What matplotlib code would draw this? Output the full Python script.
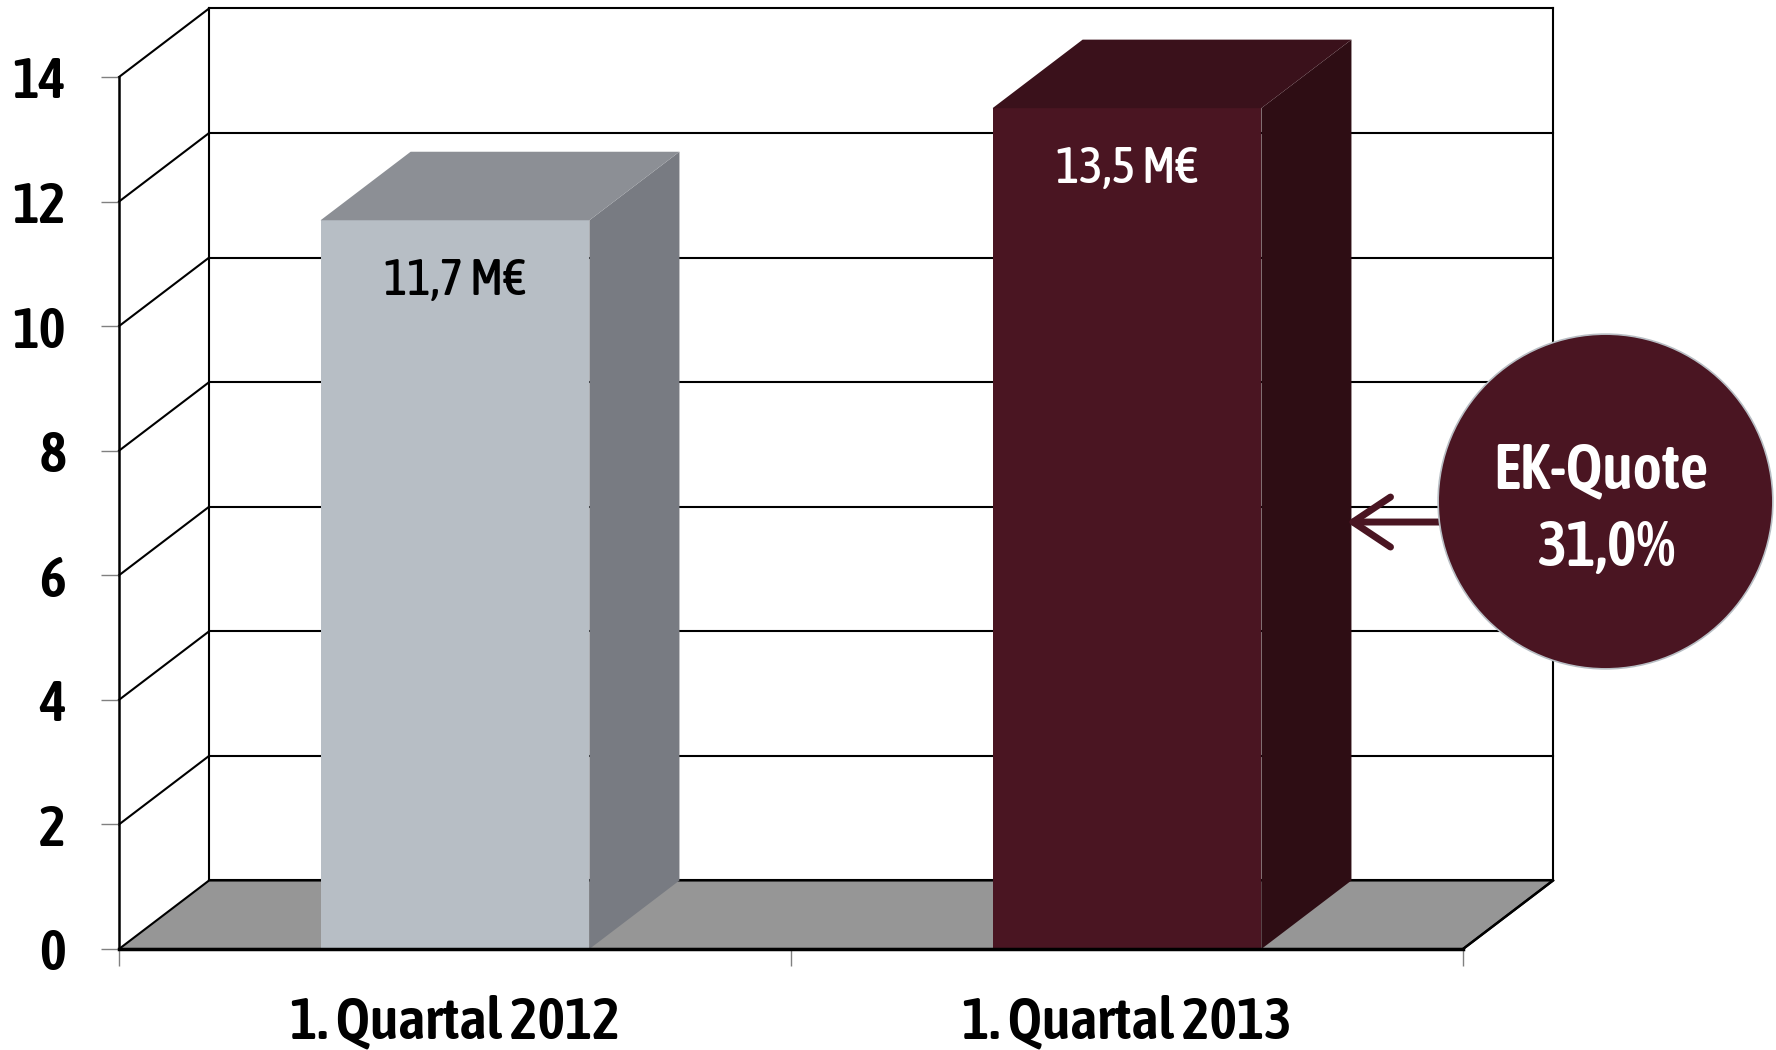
import matplotlib
matplotlib.use('Agg')
import matplotlib.pyplot as plt
from matplotlib.patches import Polygon

# ---- data ----
categories = ['1. Quartal 2012', '1. Quartal 2013']
values = [11.7, 13.5]
value_labels = ['11,7 M€', '13,5 M€']
y_ticks = [0, 2, 4, 6, 8, 10, 12, 14]
quote_lines = ['EK-Quote', '31,0%']

FRONT = ['#b7bec5', '#4a1522']
SIDE = ['#787b82', '#2e0d14']
TOP = ['#8c8f95', '#3a111b']
LABEL_COLORS = ['black', 'white']
WINE = '#4a1522'

plt.rcParams['font.family'] = ['Asap Condensed', 'DejaVu Sans']

W, H = 1776, 1050
fig = plt.figure(figsize=(W / 100, H / 100), dpi=100)
x0_px, x1_px, y0_px, y1_px = 119, 1463, 949, 77
ax = fig.add_axes([x0_px / W, (H - y0_px) / H, (x1_px - x0_px) / W, (y0_px - y1_px) / H])
n = len(categories)
ax.set_xlim(0, n)
ax.set_ylim(0, max(y_ticks))

DX, DY = 0.134, 1.1  # 3D depth offset
ymax = max(y_ticks)

# floor
ax.add_patch(Polygon([(0, 0), (n, 0), (n + DX, DY), (DX, DY)], closed=True,
                     facecolor='#969696', edgecolor='black', lw=1.5, zorder=1, clip_on=False))

# back wall grid
for v in y_ticks:
    ax.plot([DX, n + DX], [v + DY, v + DY], color='black', lw=1.5, zorder=1.5, clip_on=False)
    if v > 0:
        ax.plot([0, DX], [v, v + DY], color='black', lw=1.5, zorder=1.5, clip_on=False)
ax.plot([DX, DX], [DY, ymax + DY], color='black', lw=1.5, zorder=1.5, clip_on=False)
ax.plot([n + DX, n + DX], [DY, ymax + DY], color='black', lw=1.5, zorder=1.5, clip_on=False)
ax.plot([n, n + DX], [0, DY], color='black', lw=1.8, zorder=1.6, clip_on=False)

# bars
centers = [i + 0.5 for i in range(n)]
bw = 0.4
ax.bar(centers, values, width=bw, color=FRONT, zorder=3, linewidth=0)
for i, (c, v) in enumerate(zip(centers, values)):
    r = c + bw / 2
    l = c - bw / 2
    ax.add_patch(Polygon([(r, 0), (r + DX, DY), (r + DX, v + DY), (r, v)], closed=True,
                         facecolor=SIDE[i], edgecolor='none', zorder=3, clip_on=False))
    ax.add_patch(Polygon([(l, v), (r, v), (r + DX, v + DY), (l + DX, v + DY)], closed=True,
                         facecolor=TOP[i], edgecolor='none', zorder=3, clip_on=False))
    ax.annotate(value_labels[i], xy=(c, v), xytext=(0, -44), textcoords='offset points',
                ha='center', va='center', fontsize=36, fontweight='medium',
                color=LABEL_COLORS[i], zorder=4)

# spines
for s in ['top', 'right']:
    ax.spines[s].set_visible(False)
ax.spines['left'].set_linewidth(1.8)
ax.spines['bottom'].set_linewidth(2.5)
ax.spines['left'].set_zorder(4)
ax.spines['bottom'].set_zorder(4)
ax.set_facecolor('none')

# ticks
ax.set_yticks(y_ticks)
ax.set_yticklabels([str(t) for t in y_ticks], fontsize=41, fontweight='semibold')
ax.tick_params(axis='y', length=13, width=1, color='#808080', pad=25)
ax.set_xticks(range(n + 1))
ax.set_xticklabels([''] * (n + 1))
ax.tick_params(axis='x', which='major', length=12, width=1, color='#808080')
ax.set_xticks(centers, minor=True)
ax.set_xticklabels(categories, minor=True, fontsize=42, fontweight='semibold')
ax.tick_params(axis='x', which='minor', length=0, pad=33)

# circle callout with arrow
ax.annotate('', xy=(1.827, 6.855), xytext=(1.975, 6.855),
            arrowprops=dict(arrowstyle='->,head_length=0.45,head_width=0.3', mutation_scale=60,
                            lw=5, color=WINE, shrinkA=0, shrinkB=0, capstyle='round',
                            joinstyle='round'),
            zorder=5, annotation_clip=False)
ax.plot([2.2113], [7.20], marker='o', markersize=241, mfc=WINE, mec='#b8bec4', mew=1.2,
        zorder=6, clip_on=False)
ax.text(2.205, 7.40, quote_lines[0], ha='center', va='baseline', fontsize=45,
        fontweight='semibold', color='white', zorder=7)
ax.text(2.215, 6.15, quote_lines[1], ha='center', va='baseline', fontsize=45,
        fontweight='semibold', color='white', zorder=7)

fig.savefig('out.png', dpi=100)
